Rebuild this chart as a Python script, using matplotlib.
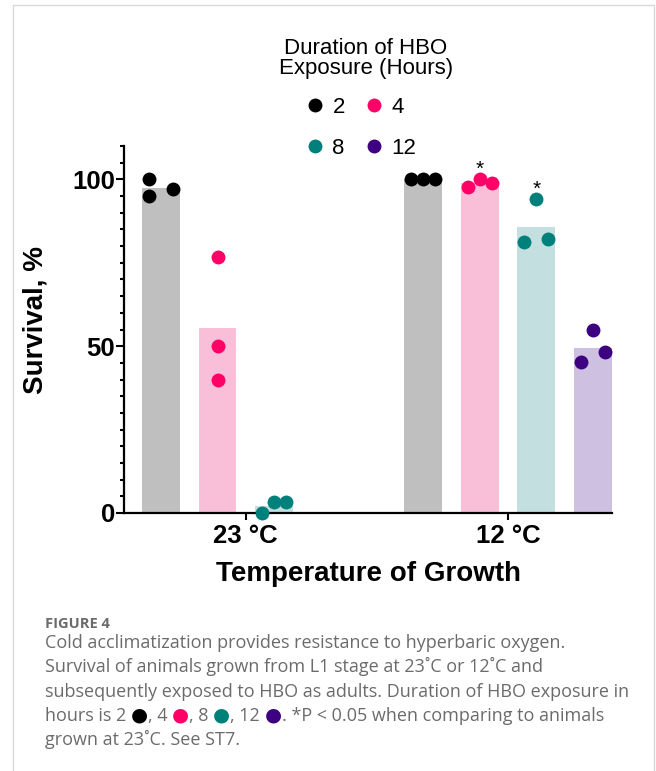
import numpy as np
import matplotlib.pyplot as plt
from matplotlib.lines import Line2D
from matplotlib.patches import Rectangle
from matplotlib.ticker import MultipleLocator

temps = ['23 °C', '12 °C']
hours = ['2', '4', '8', '12']
dot_colors = ['#000000', '#FF0066', '#00807A', '#3D0080']
bar_colors = ['#BFBFBF', '#F9BFD9', '#C3DFE0', '#CEC0E0']

# survival (%) of each replicate, one list per HBO duration (None = not tested)
surv_23 = [[100, 95, 97], [76.7, 50, 40], [0, 3.3, 3.3], None]
surv_12 = [[100, 100, 100], [97.8, 100, 98.8], [94.2, 81.2, 82.2], [55, 45.4, 48.2]]
stars_12 = [False, True, True, False]

# horizontal spread of the replicate dots (layout only)
jit_23 = [[-1, -1, 1], [0, 0, 0], [-1, 0, 1], None]
jit_12 = [[-1, 0, 1], [-1, 0, 1], [0, -1, 1], [0, -1, 1]]

group_start = [0, 4.64]
bar_w = 0.67
jit_step = 0.21

plt.rcParams['font.family'] = ['Liberation Sans', 'DejaVu Sans']

W, H = 656, 771
fig = plt.figure(figsize=(W / 100, H / 100), dpi=100)
ax = fig.add_axes([124 / W, 1 - 513 / H, (612 - 124) / W, (513 - 146) / H])

for g, (surv, jit) in enumerate([(surv_23, jit_23), (surv_12, jit_12)]):
    for k in range(len(hours)):
        if surv[k] is None:
            continue
        x = group_start[g] + k
        vals = np.array(surv[k])
        ax.bar(x, vals.mean(), width=bar_w, color=bar_colors[k], zorder=1)
        xs = x + np.array(jit[k]) * jit_step
        ax.scatter(xs, vals, s=100, color=dot_colors[k], zorder=3, clip_on=False,
                   linewidths=0)

for k in range(len(hours)):
    if stars_12[k]:
        ax.annotate('*', xy=(group_start[1] + k, max(surv_12[k])), xytext=(0, 3),
                    textcoords='offset points', ha='center', va='baseline',
                    fontsize=15, annotation_clip=False)

ax.set_xlim(-0.655, 7.98)
ax.set_ylim(0, 110)
ax.set_xticks([group_start[0] + 1.5, group_start[1] + 1.5])
ax.set_xticklabels(temps, fontsize=18.5, fontweight='bold')
ax.set_yticks([0, 50, 100])
ax.set_yticklabels(['0', '50', '100'], fontsize=18.5, fontweight='bold')
ax.yaxis.set_minor_locator(MultipleLocator(5))
ax.tick_params(axis='y', which='major', length=6, width=1.5, pad=0.5)
ax.tick_params(axis='y', which='minor', length=3, width=1.5)
ax.tick_params(axis='x', which='major', length=5, width=1.5, pad=3)
for s in ['top', 'right']:
    ax.spines[s].set_visible(False)
for s in ['left', 'bottom']:
    ax.spines[s].set_linewidth(1.6)

ax.set_ylabel('Survival, %', fontsize=20, fontweight='bold')
ax.yaxis.set_label_coords(-0.154, 0.526)
ax.set_xlabel('Temperature of Growth', fontsize=20, fontweight='bold')
ax.xaxis.set_label_coords(0.5, -0.132)

# legend: title as its own text, entries in two rows
fig.text(366 / W, 1 - 74.3 / H, 'Duration of HBO\nExposure (Hours)', fontsize=16,
         ha='center', va='baseline', multialignment='center', linespacing=0.95)
handles = [Line2D([], [], ls='none', marker='o', ms=10, mew=0, color=c) for c in dot_colors]
order = [0, 2, 1, 3]
leg = ax.legend([handles[i] for i in order], [hours[i] for i in order], ncol=2,
                loc='upper center',
                bbox_to_anchor=(361 / W, 1 - 77 / H), bbox_transform=fig.transFigure,
                frameon=False, fontsize=16, handlelength=0.8,
                handletextpad=0.4, columnspacing=0.9, labelspacing=0.9)

# panel frame
fig.add_artist(Rectangle((13 / W, -0.05), (654 - 13) / W, 1.05 - 5.5 / H,
                         transform=fig.transFigure, fill=False, ec='#D9D9D9', lw=1))

# caption
cap_color = '#6B6B6B'
cap_font = ['Open Sans', 'DejaVu Sans']
cap_fs = 13
x0 = 45 / W
fig.text(x0, 1 - 628 / H, 'FIGURE 4', fontsize=10.5, fontweight='bold', color=cap_color,
         family=cap_font, va='baseline')
lines = ['Cold acclimatization provides resistance to hyperbaric oxygen.',
         'Survival of animals grown from L1 stage at 23˚C or 12˚C and',
         'subsequently exposed to HBO as adults. Duration of HBO exposure in',
         None,
         'grown at 23˚C. See ST7.']
base = [648, 672.3, 696.6, 720.9, 745.2]
for ln, b in zip(lines, base):
    if ln is not None:
        fig.text(x0, 1 - b / H, ln, fontsize=cap_fs, color=cap_color, family=cap_font,
                 va='baseline')

yb = 1 - base[3] / H
pieces = [('hours is 2 ', cap_color), ('●', dot_colors[0]), (', 4 ', cap_color),
          ('●', dot_colors[1]), (', 8 ', cap_color), ('●', dot_colors[2]),
          (', 12 ', cap_color), ('●', dot_colors[3]),
          ('. *P < 0.05 when comparing to animals', cap_color)]
prev = fig.text(x0, yb, pieces[0][0], fontsize=cap_fs, color=cap_color, family=cap_font,
                va='baseline')
for txt, col in pieces[1:]:
    fam = ['DejaVu Sans'] if txt == '●' else cap_font
    fs = 14 if txt == '●' else cap_fs
    prev = ax.annotate(txt, xy=(1, yb), xycoords=(prev, 'figure fraction'),
                       fontsize=fs, color=col, family=fam, va='baseline', ha='left',
                       annotation_clip=False)

fig.savefig('out.png', dpi=100)
